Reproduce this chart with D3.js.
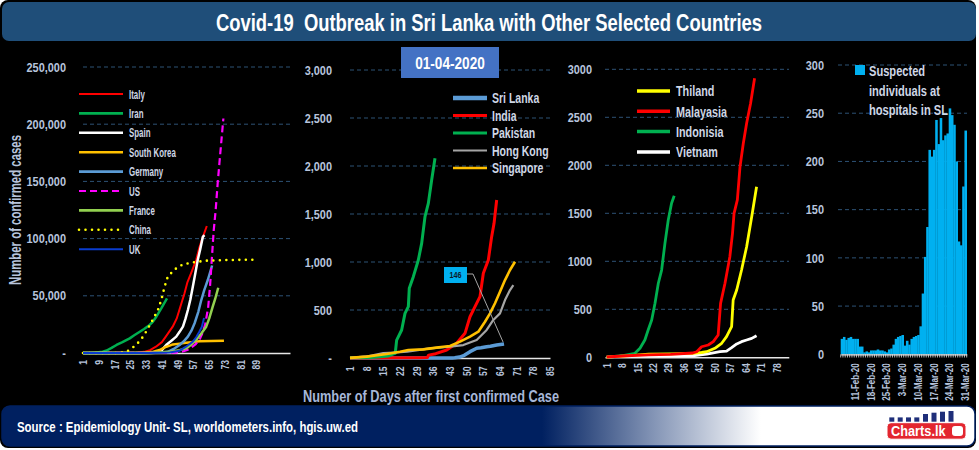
<!DOCTYPE html>
<html><head><meta charset="utf-8">
<script src="https://cdn.jsdelivr.net/npm/d3@7"></script>
<style>
html,body{margin:0;padding:0;background:#fff;}
svg{display:block;}
text{font-family:'Liberation Sans',Arial,sans-serif;font-weight:bold;}
</style></head><body>
<svg id="c" width="979" height="450"></svg>
<script>
// ---------------- DATA ----------------
const titleText = "Covid-19  Outbreak in Sri Lanka with Other Selected Countries";
const dateText = "01-04-2020";
const sourceText = "Source : Epidemiology Unit- SL, worldometers.info, hgis.uw.ed";
const yTitle = "Number of confirmed cases";
const xTitle = "Number of Days after first confirmed Case";

// Panel 1: [day, confirmed cases]
const italy = [[1,2],[20,3],[28,200],[32,1000],[35,2500],[38,5500],[41,9500],[43,14300],[46.5,23000],[48.5,30000],[50.3,40000],[52.5,52200],[54,62000],[56,70500],[58.4,81300],[60,92000],[61.5,100000],[63.8,111000]];
const iran = [[1,2],[5,50],[8,400],[11,1200],[13,2200],[15.5,4500],[18,7000],[21,9500],[24.7,12800],[27,15500],[29.8,18600],[32,21000],[34.8,24500],[36.5,27500],[38.2,31700],[39.5,35500],[40.7,39000],[42,43000],[43.6,47800]];
const spain = [[1,1],[32,10],[38,300],[41,2500],[43.5,7500],[46,11000],[48.3,14300],[50,18500],[51.7,23000],[53,30000],[54.2,37600],[55.5,47000],[56.7,58000],[58,70000],[59.2,81300],[60.5,91000],[61.8,101600],[62.6,103000]];
const southKorea = [[1,1],[30,30],[36,800],[38,1700],[39.9,2600],[41.5,4000],[43.3,5500],[45,6500],[46.6,7500],[50,8200],[53.3,9000],[57,9600],[60,10200],[66,10400],[72.5,10600]];
const germany = [[1,1],[30,16],[40,200],[44,1000],[47,3500],[50,7000],[52,10000],[54.2,14300],[56,19500],[57.6,26000],[59.5,36000],[61,46300],[62.5,55000],[64.3,63800],[66.5,76500]];
const us = [[1,1],[40,60],[48,400],[52,1500],[55,3500],[58,7500],[60,11400],[61.5,17000],[63,25000],[64.5,40000],[65.5,60000],[66.3,81000],[67.3,107000],[68.3,125000],[69.3,148000],[70.5,172000],[72.2,205000]];
const france = [[1,3],[35,100],[45,1000],[50,2500],[53.4,4100],[56,7500],[58.4,11400],[61,17000],[63.5,23000],[65,30000],[66.8,40500],[68,47000],[69.6,57000]];
const china = [[1,0],[20,50],[23,1000],[25.6,4100],[28,7000],[31.5,14300],[34,21600],[36.5,29400],[39,37600],[40.7,46300],[42.4,58000],[44,66700],[47.5,73100],[51.7,77500],[56.7,79200],[63.5,80700],[75,81300],[90,81600]];
const uk = [[1,2],[35,50],[45,500],[50,2000],[53.3,5500],[56.7,9900],[58.5,14000],[60,18600],[61.3,23000],[62.4,30500]];
const p1Ticks = [0,50000,100000,150000,200000,250000];
const p1Days = [1,9,17,25,33,41,49,57,65,73,81,89];

// Panel 2
const sriLanka = [[1,1],[44,1],[45,2],[47,10],[49,28],[51.4,66],[54.2,101],[56,106],[58.4,118],[60,122],[62.6,135],[65.7,146]];
const india = [[1,1],[30,3],[33.5,5],[34,30],[37,45],[41.6,83],[45.8,153],[49.3,257],[51.4,430],[53.5,535],[55.6,639],[57,882],[59.1,1021],[60.5,1264],[61.5,1403],[62.6,1646]];
const pakistan = [[1,2],[10,5],[17,20],[19,40],[20,49],[20.6,187],[22.7,292],[24.1,465],[25.5,535],[25.9,726],[27.6,847],[29.7,1021],[31.1,1194],[32.5,1472],[33.9,1611],[35.3,1854],[36.7,2080]];
const hongKong = [[1,2],[9,20],[15,50],[22,60],[25,66],[34.6,101],[43,118],[48.6,135],[54.2,187],[58.4,292],[61.2,396],[64,465],[66.1,604],[68.2,708],[69.6,760]];
const singapore = [[1,1],[8,14],[16.4,42],[22,66],[25.5,83],[31.8,90],[37.4,108],[43,125],[47.2,170],[51.4,222],[54.9,274],[57.7,378],[59.8,465],[61.9,570],[64,691],[66.1,812],[68.2,917],[70.3,1003]];
const p2Ticks = [0,500,1000,1500,2000,2500,3000];
const p2Days = [1,8,15,22,29,36,43,50,57,64,71,78,85];
const sriLankaLabel = 146;

// Panel 3
const thailand = [[1,1],[10,14],[20,32],[30,35],[40,40],[44,50],[46.3,58],[50,94],[53.1,146],[55.3,215],[57.6,319],[58.3,597],[59.9,701],[62.1,909],[64.4,1152],[66.7,1465],[68.9,1777]];
const malaysia = [[1,3],[10,16],[20,25],[30,30],[40,45],[41.8,58],[44,110],[47,128],[49.3,163],[51.5,232],[52.6,562],[54.6,771],[56.8,1048],[58,1291],[58.7,1500],[60.2,1639],[61.4,1985],[62.9,2229],[64.4,2437],[66.2,2646],[68,2906]];
const indonesia = [[1,2],[9,20],[13.8,42],[16.1,94],[18.3,180],[19.8,284],[21.4,389],[22.9,562],[24.4,771],[25.9,909],[27.4,1187],[28.9,1430],[30.4,1604],[31.6,1683]];
const vietnam = [[1,2],[10,14],[20,16],[30,16],[40,16],[46.3,34],[52.3,58],[55.3,65],[57.6,100],[59.9,139],[62.1,163],[64.4,180],[66.7,197],[68.9,225]];
const p3Ticks = [0,500,1000,1500,2000,2500,3000];
const p3Days = [1,8,15,22,29,36,43,50,57,64,71,78];

// Panel 4: suspected individuals at hospitals in SL, daily from 5-Feb-20
const suspectedStart = [2020,1,5];
const suspected = [16,18,15,17,18,16,16,16, 8,8, 2,3,2,4,4,4,5,4,4,3,2,5, 6,10,16,18,19,20,9,14,10,16,18,19,20,
  29,63,101,132,212,205,212,243,218,245,222,227,229,255,248,238,200,117,113,174,232];
const p4Ticks = [0,50,100,150,200,250,300];
const p4Labels = ["11-Feb-20","18-Feb-20","25-Feb-20","3-Mar-20","10-Mar-20","17-Mar-20","24-Mar-20","31-Mar-20"];
const suspectedLegend = ["Suspected","individuals at","hospitals in SL"];

// ---------------- DRAW ----------------
const svg = d3.select('#c');
const TICK = "#b7c4dc", LEG = "#cfd7e6", GRID = "#2d5275";
function squeeze(sel, k){
  sel.each(function(){ const w=this.getComputedTextLength(); if(w>0){ d3.select(this).attr('textLength',(w*k).toFixed(2)).attr('lengthAdjust','spacingAndGlyphs'); } });
  return sel;
}

const defs = svg.append('defs');
const gr = defs.append('linearGradient').attr('id','foot').attr('x1','0').attr('x2','1').attr('y1','0').attr('y2','0');
[[0,'#002060'],[0.555,'#002060'],[0.67,'#8495b6'],[0.78,'#ffffff'],[1,'#ffffff']].forEach(s=>gr.append('stop').attr('offset',s[0]).attr('stop-color',s[1]));

svg.append('rect').attr('x',0).attr('y',0).attr('width',976).attr('height',448).attr('rx',8).attr('fill','#000');
svg.append('rect').attr('x',2).attr('y',2).attr('width',974).attr('height',39).attr('rx',7).attr('fill','#1f4e79');
svg.append('text').attr('x',489).attr('y',31).attr('text-anchor','middle').attr('fill','#fff')
  .attr('xml:space','preserve').style('white-space','pre').style('font-size','23.5px').text(titleText)
  .attr('textLength',546).attr('lengthAdjust','spacingAndGlyphs');

function yLabels(y, ticks, xRight, fmt){
  const g = svg.append('g').attr('transform',`translate(${xRight},0)`)
    .call(d3.axisLeft(y).tickValues(ticks).tickSize(0).tickPadding(0).tickFormat(fmt));
  g.select('.domain').remove();
  g.selectAll('text').attr('fill',TICK).style('font-size','13px').style('font-family',"'Liberation Sans',Arial,sans-serif").style('font-weight','bold');
  squeeze(g.selectAll('text'), 0.84);
}
function grid(y, ticks, x0, x1){
  svg.append('g').selectAll('line').data(ticks.filter(t=>t>0)).join('line')
    .attr('x1',x0).attr('x2',x1).attr('y1',d=>y(d)).attr('y2',d=>y(d))
    .attr('stroke',GRID).attr('stroke-width',1).attr('stroke-dasharray','4,3');
}
function xAxis(x, y0, days, off){
  const g = svg.append('g').attr('transform',`translate(0,${y0})`)
    .call(d3.axisBottom(x).tickValues(days).tickSize(0).tickPadding(0));
  g.select('.domain').attr('stroke','#e6e6e6').attr('stroke-width',1.5);
  g.selectAll('text').attr('transform','rotate(-90)').attr('x',-off).attr('y',0).attr('dy','0.35em')
    .style('text-anchor','end').attr('fill',TICK).style('font-size','10px').style('font-family',"'Liberation Sans',Arial,sans-serif").style('font-weight','bold');
  squeeze(g.selectAll('text'), 0.86);
}
function drawLines(series, x, y){
  const line = d3.line().x(d=>x(d[0])).y(d=>y(d[1]));
  svg.append('g').selectAll('path').data(series).join('path')
    .attr('d',s=>line(s.data)).attr('fill','none').attr('stroke',s=>s.color).attr('stroke-width',s=>s.w)
    .attr('stroke-dasharray',s=>s.dash||null).attr('stroke-linecap',s=>s.cap||'butt').attr('stroke-linejoin','round');
}
function legend(series, x0, x1, tx, y0, step, fs, k){
  const g = svg.append('g');
  series.forEach((s,i)=>{
    const yy = y0 + i*step;
    g.append('line').attr('x1',x0).attr('x2',x1).attr('y1',yy).attr('y2',yy).attr('stroke',s.color).attr('stroke-width',s.lw||s.w)
      .attr('stroke-dasharray',s.dash||null).attr('stroke-linecap',s.cap||'butt');
    squeeze(g.append('text').attr('x',tx).attr('y',yy).attr('dy','0.36em').attr('fill',LEG).style('font-size',fs+'px').text(s.name), k);
  });
}

// Panel 1
const x1 = d3.scaleLinear().domain([1,106]).range([83,290]);
const y1 = d3.scaleLinear().domain([0,250000]).range([353,67]);
grid(y1, p1Ticks, 83, 290);
yLabels(y1, p1Ticks, 66, d=>d===0?'-':d3.format(',')(d));
xAxis(x1, 353, p1Days, 7);
const s1 = [
  {name:'Italy',data:italy,color:'#ff0000',w:2},
  {name:'Iran',data:iran,color:'#00b050',w:2.5,lw:2.6},
  {name:'Spain',data:spain,color:'#ffffff',w:2.5,lw:2.6},
  {name:'South Korea',data:southKorea,color:'#ffc000',w:2.5,lw:2.6},
  {name:'Germany',data:germany,color:'#5b9bd5',w:2.5,lw:2.6},
  {name:'US',data:us,color:'#ff00ff',w:2.2,dash:'7,4'},
  {name:'France',data:france,color:'#92d050',w:2.5,lw:2.6},
  {name:'China',data:china,color:'#ffff00',w:2.6,dash:'0,6.5',cap:'round'},
  {name:'UK',data:uk,color:'#0a3ccf',w:2}
];
drawLines(s1, x1, y1);
legend(s1, 79, 123, 129, 94, 19.4, 12.5, 0.63);
squeeze(svg.append('text').attr('transform','translate(21,210) rotate(-90)').attr('text-anchor','middle').attr('fill',TICK)
  .style('font-size','16px').text(yTitle), 1).attr('textLength',150);

// Panel 2
const x2 = d3.scaleLinear().domain([1,85]).range([350,550]);
const y2 = d3.scaleLinear().domain([0,3000]).range([358,70]);
grid(y2, p2Ticks, 350, 550);
yLabels(y2, p2Ticks, 332, d=>d===0?'-':d3.format(',')(d));
xAxis(x2, 358, p2Days, 8.5);
const s2 = [
  {name:'Sri Lanka',data:sriLanka,color:'#5b9bd5',w:3.5,lw:4.5},
  {name:'India',data:india,color:'#ff0000',w:3},
  {name:'Pakistan',data:pakistan,color:'#00b050',w:3},
  {name:'Hong Kong',data:hongKong,color:'#a5a5a5',w:2.2},
  {name:'Singapore',data:singapore,color:'#ffc000',w:2.6}
];
drawLines(s2, x2, y2);
legend(s2, 453, 487, 492, 98, 17.5, 14, 0.75);
// date box
svg.append('rect').attr('x',401).attr('y',47).attr('width',98).attr('height',31).attr('fill','#4472c4');
squeeze(svg.append('text').attr('x',450).attr('y',69).attr('text-anchor','middle').attr('fill','#fff').style('font-size','17px').text(dateText), 0.8);
// callout 146
const slLast = sriLanka[sriLanka.length-1];
svg.append('polyline').attr('points',`467,274 473,274 ${x2(slLast[0])-1},${y2(slLast[1])-2}`)
  .attr('fill','none').attr('stroke','#a6a6a6').attr('stroke-width',1);
svg.append('rect').attr('x',444).attr('y',267).attr('width',23).attr('height',16).attr('fill','#00b0f0');
squeeze(svg.append('text').attr('x',455.5).attr('y',275).attr('dy','0.35em').attr('text-anchor','middle').attr('fill','#0d1a2a').style('font-size','9px').text(sriLankaLabel), 0.8);
squeeze(svg.append('text').attr('x',431).attr('y',402).attr('text-anchor','middle').attr('fill','#a6b7d8').style('font-size','17px').text(xTitle), 1)
  .attr('textLength',256);

// Panel 3
const x3 = d3.scaleLinear().domain([0.25,83.5]).range([605,788.8]);
const y3 = d3.scaleLinear().domain([0,3000]).range([357.3,69.3]);
grid(y3, p3Ticks, 605, 789);
yLabels(y3, p3Ticks, 592, d=>String(d));
xAxis(x3, 357.3, p3Days, 6);
const s3 = [
  {name:'Thiland',data:thailand,color:'#ffff00',w:2.8,lw:3.5},
  {name:'Malayasia',data:malaysia,color:'#ff0000',w:2.8,lw:3.5},
  {name:'Indonisia',data:indonesia,color:'#00b050',w:2.8,lw:3.5},
  {name:'Vietnam',data:vietnam,color:'#ffffff',w:2.8,lw:3.5}
];
drawLines([s3[3],s3[2],s3[0],s3[1]], x3, y3);
legend(s3, 637, 670, 676, 91, 20.3, 15, 0.72);

// Panel 4
const dates = suspected.map((v,i)=>new Date(suspectedStart[0],suspectedStart[1],suspectedStart[2]+i));
const fmt4 = d3.timeFormat('%-d-%b-%y');
const x4 = d3.scaleBand().domain(dates.map(fmt4)).range([840.7,966.7]).padding(0);
const y4 = d3.scaleLinear().domain([0,300]).range([354.3,65]);
grid(y4, p4Ticks, 838, 967);
yLabels(y4, p4Ticks, 824, d=>String(d));
svg.append('g').selectAll('rect').data(suspected).join('rect')
  .attr('x',(d,i)=>x4(fmt4(dates[i]))).attr('width',x4.bandwidth()+0.3)
  .attr('y',d=>y4(d)).attr('height',d=>y4(0)-y4(d)).attr('fill','#00b0f0');
const g4 = svg.append('g').attr('transform','translate(0,354.3)')
  .call(d3.axisBottom(x4).tickValues(p4Labels).tickSize(0).tickPadding(0));
g4.select('.domain').attr('stroke','#e6e6e6').attr('stroke-width',1.2);
g4.selectAll('text').attr('transform','rotate(-90)').attr('x',-9).attr('y',0).attr('dy','0.35em')
  .style('text-anchor','end').attr('fill',TICK).style('font-size','10px').style('font-family',"'Liberation Sans',Arial,sans-serif").style('font-weight','bold');
squeeze(g4.selectAll('text'), 0.8);
svg.append('g').selectAll('line').data(dates.map(fmt4).concat(['end'])).join('line')
  .attr('x1',d=>d==='end'?x4.range()[1]:x4(d)).attr('x2',d=>d==='end'?x4.range()[1]:x4(d))
  .attr('y1',354.3).attr('y2',357.5).attr('stroke','#e6e6e6').attr('stroke-width',0.8);
svg.append('rect').attr('x',855).attr('y',65).attr('width',10).attr('height',10).attr('fill','#00b0f0');
suspectedLegend.forEach((t,i)=>{
  squeeze(svg.append('text').attr('x',869).attr('y',76+i*19.5).attr('fill',LEG).style('font-size','15px').text(t), 0.74);
});

// Footer
svg.append('rect').attr('x',2).attr('y',406).attr('width',973).attr('height',40).attr('rx',8)
  .attr('fill','url(#foot)').attr('stroke','#002060').attr('stroke-width',1.5);
squeeze(svg.append('text').attr('x',17).attr('y',432).attr('fill','#fff').style('font-size','15px').text(sourceText), 1)
  .attr('textLength',341);
// logo
const lg = svg.append('g');
[[889.3,4.3],[897.7,4.3],[906,4.3],[914.3,4.3],[923,7.7],[931.5,9],[940,10],[948.5,10.7]].forEach(b=>{
  lg.append('rect').attr('x',b[0]).attr('y',421.7-b[1]).attr('width',5).attr('height',b[1]).attr('fill','#1f2f7a');
});
lg.append('rect').attr('x',887).attr('y',422.7).attr('width',79).attr('height',16.5).attr('rx',4).attr('fill','#e3262f').attr('stroke','#fff').attr('stroke-width',1);
squeeze(lg.append('text').attr('x',891).attr('y',436).attr('fill','#fff').style('font-size','15px').text('Charts.lk'), 0.85);
lg.append('rect').attr('x',952).attr('y',426).attr('width',11).attr('height',10).attr('rx',3).attr('fill','#fff');
</script></body></html>
